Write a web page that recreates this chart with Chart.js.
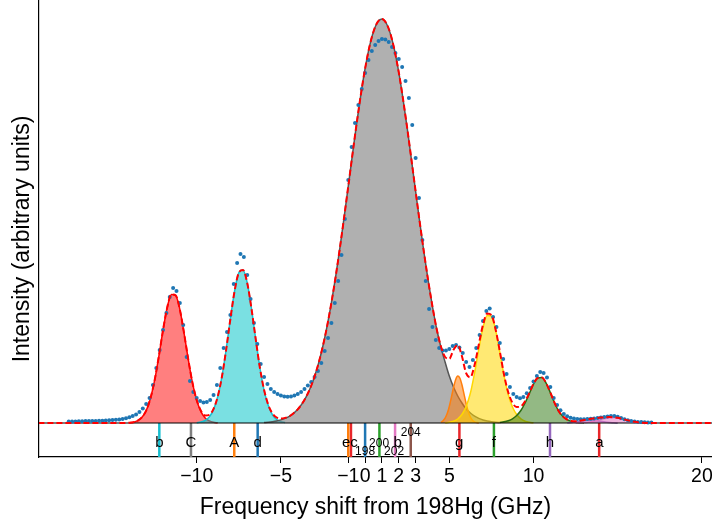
<!DOCTYPE html>
<html><head><meta charset="utf-8">
<script src="https://cdn.jsdelivr.net/npm/chart.js@4.4.1/dist/chart.umd.min.js"></script>
<style>html,body{margin:0;padding:0;background:#fff;}#wrap{width:712px;height:527px;position:relative;}</style>
</head><body><div id="wrap"><canvas id="c" width="712" height="527"></canvas></div>
<script>
// ---------------- data (intensity in arbitrary units) ----------------
const xTickValues = [-10, -5, -1, 0, 1, 2, 3, 5, 10, 20];

const dataX = [-17.6,-17.4,-17.2,-17.0,-16.8,-16.6,-16.4,-16.2,-16.0,-15.8,-15.6,-15.4,-15.2,-15.0,-14.8,-14.6,-14.4,-14.2,-14.0,-13.8,-13.6,-13.4,-13.2,-13.0,-12.8,-12.6,-12.4,-12.2,-12.0,-11.8,-11.6,-11.4,-11.2,-11.0,-10.8,-10.6,-10.4,-10.2,-10.0,-9.8,-9.6,-9.4,-9.2,-9.0,-8.8,-8.6,-8.4,-8.2,-8.0,-7.8,-7.6,-7.4,-7.2,-7.0,-6.8,-6.6,-6.4,-6.2,-6.0,-5.8,-5.6,-5.4,-5.2,-5.0,-4.8,-4.6,-4.4,-4.2,-4.0,-3.8,-3.6,-3.4,-3.2,-3.0,-2.8,-2.6,-2.4,-2.2,-2.0,-1.8,-1.6,-1.4,-1.2,-1.0,-0.8,-0.6,-0.4,-0.2,
0.0,0.2,0.4,0.6,0.8,1.0,1.2,1.4,1.6,1.8,2.0,2.2,2.4,2.6,2.8,3.0,3.2,3.4,3.6,3.8,4.0,4.2,4.4,4.6,4.8,5.0,5.2,5.4,5.6,5.8,6.0,6.2,6.4,6.6,6.8,7.0,7.2,7.4,7.6,7.8,8.0,8.2,8.4,8.6,8.8,9.0,9.2,9.4,9.6,9.8,10.0,10.2,10.4,10.6,10.8,11.0,11.2,11.4,11.6,11.8,12.0,12.2,12.4,12.6,12.8,13.0,13.2,13.4,13.6,13.8,14.0,14.2,14.4,14.6,14.8,15.0,15.2,15.4,15.6,15.8,16.0,16.2,16.4,16.6,16.8,17.0];
const dataY = [1.5,1.6,1.6,1.7,1.8,1.9,2.0,2.1,2.1,2.2,2.3,2.5,2.7,2.9,3.2,3.6,4.1,4.8,5.7,7.0,8.6,11.0,14.5,19.0,25.0,38.0,55.0,73.0,93.0,110.0,126.0,135.0,132.0,120.0,98.0,66.0,42.0,31.0,25.0,22.0,20.5,21.0,23.0,28.0,38.0,55.0,75.0,91.0,108.0,139.0,160.0,169.0,166.0,148.0,124.0,100.0,79.0,59.0,46.0,39.0,34.0,31.0,29.0,27.5,26.5,26.3,26.5,27.5,29.0,31.0,34.0,37.5,41.0,46.0,52.0,60.0,72.0,85.0,100.0,120.0,142.0,168.0,204.0,243.0,276.0,300.0,318.0,334.0,
350,363,372,378,382,384,383.5,381,376,370,364,356,342,325,298,265,225,183,142,114,96,83,75,72.5,72.5,74,77,78,75.5,70,61,56,63,75,88,102,112,114.5,106,96,80,64,49,36,29,26,24.7,26,29.7,35,41.5,47,51,50,45.5,36,25,18,12.7,9,6.7,5.3,4.4,3.9,3.7,3.8,4.0,4.3,4.6,4.9,5.4,6.0,6.5,6.9,7.0,6.2,5.0,3.7,2.7,2.0,1.5,1.1,0.9,0.7,0.6,0.5];

const fitX = [-19.4,-14.25,-14.0,-13.75,-13.5,-13.25,-13.0,-12.75,-12.5,-12.25,-12.0,-11.75,-11.5,-11.25,-11.0,-10.75,-10.5,-10.25,-10.0,-9.75,-9.5,-9.25,-9.0,-8.75,-8.5,-8.25,-8.0,-7.75,-7.5,-7.25,-7.0,-6.75,-6.5,-6.25,-6.0,-5.75,-5.5,-5.25,-5.0,-4.75,-4.5,-4.25,-4.0,-3.75,-3.5,-3.25,-3.0,-2.75,-2.5,-2.25,-2.0,-1.75,-1.5,-1.25,-1.0,-0.75,-0.5,-0.25,0.0,0.25,0.5,0.75,1.0,1.25,1.5,1.75,2.0,2.25,2.5,2.75,3.0,3.25,3.5,3.75,4.0,4.25,4.5,4.75,5.0,5.25,5.5,5.75,6.0,6.25,6.5,6.75,7.0,7.25,7.5,7.75,8.0,8.25,8.5,8.75,9.0,9.25,9.5,9.75,10.0,10.25,10.5,10.75,11.0,11.25,11.5,11.75,12.0,12.25,12.5,12.75,13.0,13.25,13.5,13.75,14.0,14.25,14.5,14.75,15.0,15.25,15.5,15.75,16.0,16.25,16.5,16.75,17.0,20.7];
const fitY = [0,0.1,0.3,0.8,2.3,5.7,12.4,24.4,42.6,66.5,92.8,115.6,128.6,127.7,113.3,89.7,63.4,40.1,22.9,12.3,7.6,8.2,14.1,26.6,46.5,73.5,104.0,132.0,150.2,153.1,140.0,114.7,84.3,55.5,33.2,18.2,9.5,5.5,4.4,5.1,6.7,9.7,13.7,19.1,26.2,35.2,46.6,60.6,77.5,97.4,120.4,146.2,174.7,205.1,236.7,268.7,299.7,328.7,354.4,375.7,391.5,401.1,404.0,400.0,389.4,372.6,350.6,324.2,294.8,263.5,231.6,200.1,170.0,141.9,116.5,94.0,76.8,66.0,64.2,73.3,78.0,66.8,49.8,45.7,57.9,78.3,98.1,109.5,108.0,93.5,71.7,48.4,30.8,20.2,16.0,16.7,21.8,29.9,39.1,45.0,45.4,39.8,30.4,20.2,11.7,6.5,3.5,2.1,1.8,2.2,2.9,3.7,4.5,5.0,5.4,5.7,5.9,5.7,5.2,4.2,3.1,2.1,1.2,0.6,0.3,0.1,0.05,0];

// fitted components
const redPeakX = [-14.0,-13.75,-13.5,-13.25,-13.0,-12.75,-12.5,-12.25,-12.0,-11.75,-11.5,-11.25,-11.0,-10.75,-10.5,-10.25,-10.0,-9.75,-9.5,-9.25,-9.0,-8.75];
const redPeakY = [0.3,0.8,2.3,5.7,12.4,24.4,42.6,66.5,92.8,115.6,128.6,127.7,113.3,89.7,63.4,40.1,22.6,11.4,5.1,2.1,0.7,0.2];
const cyanPeakX = [-10.0,-9.75,-9.5,-9.25,-9.0,-8.75,-8.5,-8.25,-8.0,-7.75,-7.5,-7.25,-7.0,-6.75,-6.5,-6.25,-6.0,-5.75,-5.5,-5.25,-5.0,-4.75];
const cyanPeakY = [0.3,0.9,2.5,6.1,13.4,26.4,46.5,73.5,104.0,132.0,150.2,153.1,140.0,114.7,84.3,55.5,32.7,17.4,8.2,3.5,1.3,0.5];
const grayPeakX = [-6.0,-5.75,-5.5,-5.25,-5.0,-4.75,-4.5,-4.25,-4.0,-3.75,-3.5,-3.25,-3.0,-2.75,-2.5,-2.25,-2.0,-1.75,-1.5,-1.25,-1.0,-0.75,-0.5,-0.25,0.0,0.25,0.5,0.75,1.0,1.25,1.5,1.75,2.0,2.25,2.5,2.75,3.0,3.25,3.5,3.75,4.0,4.25,4.5,4.75,5.0,5.25,5.5,5.75,6.0,6.25,6.5,6.75,7.0,7.25,7.5,7.75,8.0];
const grayPeakY = [0.5,0.8,1.3,2.0,3.1,4.6,6.7,9.7,13.7,19.1,26.2,35.2,46.6,60.6,77.5,97.4,120.4,146.2,174.7,205.1,236.7,268.7,299.7,328.7,354.4,375.7,391.5,401.1,404.0,400.0,389.4,372.6,350.6,324.2,294.8,263.5,231.6,200.1,170.0,141.9,116.5,94.0,76.0,61.0,47.0,36.0,27.0,20.0,14.0,10.0,6.8,4.6,3.0,1.9,1.2,0.7,0.4];
const orangePeakX = [4.5,4.625,4.75,4.875,5.0,5.125,5.25,5.375,5.5,5.625,5.75,5.875,6.0,6.125,6.25,6.375,6.5,6.625,6.75];
const orangePeakY = [0.8,2.1,4.8,9.4,16.5,25.7,35.5,43.3,47.0,45.0,38.3,28.9,19.3,11.4,6.0,2.8,1.2,0.4,0.1];
const yellowPeakX = [4.75,5.0,5.25,5.5,5.75,6.0,6.25,6.5,6.75,7.0,7.25,7.5,7.75,8.0,8.25,8.5,8.75,9.0,9.25,9.5,9.75,10.0];
const yellowPeakY = [0.2,0.7,1.8,4.0,8.5,16.5,29.7,49.9,73.6,95.1,107.6,106.8,92.8,70.7,47.2,28.5,16.0,8.5,4.2,1.8,0.7,0.2];
const greenPeakX = [8.0,8.25,8.5,8.75,9.0,9.25,9.5,9.75,10.0,10.25,10.5,10.75,11.0,11.25,11.5,11.75,12.0,12.25,12.5,12.75,13.0];
const greenPeakY = [0.6,1.2,2.3,4.2,7.5,12.5,20.0,29.2,38.9,45.0,45.4,39.8,30.4,20.2,11.7,6.5,3.3,1.6,0.7,0.3,0.1];
const purplePeakX = [12.0,12.25,12.5,12.75,13.0,13.25,13.5,13.75,14.0,14.25,14.5,14.75,15.0];
const purplePeakY = [0.2,0.5,1.0,1.7,2.4,2.9,3.0,2.5,1.8,1.1,0.6,0.2,0.1];
const pinkPeakX = [12.5,12.75,13.0,13.25,13.5,13.75,14.0,14.25,14.5,14.75,15.0,15.25,15.5,15.75,16.0,16.25,16.5,16.75,17.0];
const pinkPeakY = [0.1,0.2,0.4,0.8,1.5,2.5,3.6,4.6,5.3,5.5,5.1,4.2,3.1,2.1,1.2,0.6,0.3,0.1,0.05];

// reference transition markers (GHz)
const markerNames = ['b','C','A','d','e','c','198','200','b/202','204','g','f','h','a'];
const markerFreqs = [-12.22,-10.34,-7.77,-6.38,-1.0,-0.84,0.0,0.85,1.78,2.71,5.6,7.65,10.98,13.9];
const labelTexts = ['b','C','A','d','e','c','198','200','b','202','204','g','f','h','a'];
const labelFreqs = [-12.22,-10.34,-7.77,-6.38,-1.12,-0.66,0.0,0.83,1.94,1.72,2.71,5.59,7.65,10.98,13.91];

// ---------------- styling ----------------
const FONT = "'Liberation Sans', Arial, sans-serif";
Chart.defaults.font.family = FONT;
const markerColors = ['#17becf','#7f7f7f','#ff7f0e','#1f77b4','#ff7f0e','#e8262a','#1f77b4','#2ca02c','#e377c2','#8c564b','#e8262a','#2ca02c','#9467bd','#e8262a'];
const labelLevels = [0,0,0,0,0,0,1,0,0,1,2,0,0,0,0]; // 0 normal, 1 low, 2 high
const levelOffsetPx = [24, 32, 13]; // baseline offset below the separator line
const STRIP = -34, TOP = 423;

function pts(xs, ys){ return xs.map((x,i)=>({x:x, y:ys[i]})); }
function peak(label, xs, ys, fillCol, lineCol, ord){
  return {type:'line', label, data:pts(xs,ys), fill:'origin', backgroundColor:fillCol, borderColor:lineCol,
          borderWidth:1.5, pointRadius:0, cubicInterpolationMode:'monotone', order:ord};
}

const datasets = [
  {type:'line', label:'fit', data:pts(fitX,fitY), borderColor:'#ff0000', borderWidth:2, borderDash:[6,3],
   pointRadius:0, fill:false, cubicInterpolationMode:'monotone', order:0},
  {type:'scatter', label:'data', data:pts(dataX,dataY), showLine:false, pointRadius:2.0, pointStyle:'circle',
   backgroundColor:'#1f77b4', borderWidth:0, order:1},
  {type:'line', label:'zero', data:[{x:-19.4,y:0},{x:20.7,y:0}], borderColor:'#000', borderWidth:1.2, pointRadius:0, fill:false, order:2},
  peak('pink', pinkPeakX, pinkPeakY, 'rgba(227,119,194,0.55)', '#e377c2', 10),
  peak('purple', purplePeakX, purplePeakY, 'rgba(148,103,189,0.55)', '#9467bd', 11),
  peak('green', greenPeakX, greenPeakY, 'rgba(40,115,10,0.5)', '#2a6b10', 12),
  peak('yellow', yellowPeakX, yellowPeakY, 'rgba(255,215,0,0.55)', '#ffd700', 13),
  peak('orange', orangePeakX, orangePeakY, 'rgba(255,127,14,0.55)', '#ff7f0e', 14),
  peak('gray', grayPeakX, grayPeakY, 'rgba(128,128,128,0.62)', '#555555', 15),
  peak('cyan', cyanPeakX, cyanPeakY, 'rgba(0,196,200,0.52)', '#17becf', 16),
  peak('red', redPeakX, redPeakY, 'rgba(255,0,0,0.5)', '#ff0000', 17),
];
markerFreqs.forEach((f,i)=>{
  datasets.push({type:'line', label:markerNames[i], data:[{x:f,y:STRIP},{x:f,y:0}], borderColor:markerColors[i],
    borderWidth:2.5, pointRadius:0, fill:false, order:3});
});

const textPlugin = {
  id:'texts',
  afterDraw(chart){
    const ctx = chart.ctx, xs = chart.scales.x, ys = chart.scales.y;
    const y0 = ys.getPixelForValue(0);
    ctx.save();
    ctx.fillStyle = '#000';
    ctx.textAlign = 'center';
    ctx.textBaseline = 'alphabetic';
    labelTexts.forEach((t,i)=>{
      const isNum = /\d/.test(t);
      ctx.font = (isNum ? '12px ' : '15px ') + FONT;
      ctx.fillText(t, xs.getPixelForValue(labelFreqs[i]), y0 + levelOffsetPx[labelLevels[i]]);
    });
    // y axis title
    ctx.translate(22.5, 239);
    ctx.rotate(-Math.PI/2);
    ctx.textBaseline = 'middle';
    ctx.font = '23px ' + FONT;
    ctx.fillText('Intensity (arbitrary units)', 0, 0);
    ctx.restore();
  }
};

new Chart(document.getElementById('c'), {
  data:{datasets},
  options:{
    responsive:false, animation:false, devicePixelRatio:1,
    layout:{padding:0, autoPadding:false},
    plugins:{legend:{display:false}, tooltip:{enabled:false}, title:{display:false}},
    scales:{
      x:{type:'linear', position:'bottom', min:-19.365, max:20.6,
        afterBuildTicks:(s)=>{ s.ticks = xTickValues.map(v=>({value:v})); },
        afterFit:(s)=>{ s.height = 70; s.paddingLeft = 0; s.paddingRight = 0; },
        ticks:{autoSkip:false, maxRotation:0, color:'#000', padding:2, font:{size:19.5, family:FONT},
          callback:(v)=> v < 0 ? '\u2212' + Math.abs(v) : String(v)},
        grid:{display:true, drawOnChartArea:false, drawTicks:true, tickLength:6, tickColor:'#000', tickWidth:1},
        border:{display:true, color:'#000', width:1.2},
        title:{display:true, text:'Frequency shift from 198Hg (GHz)', color:'#000', font:{size:23, family:FONT}, padding:{top:0, bottom:6}}
      },
      y:{type:'linear', position:'left', min:STRIP, max:TOP,
        afterFit:(s)=>{ s.width = 39; s.paddingTop = 0; s.paddingBottom = 0; },
        ticks:{display:false},
        grid:{display:false, drawTicks:false},
        border:{display:true, color:'#000', width:1.2},
        title:{display:false}
      }
    }
  },
  plugins:[textPlugin]
});
</script></body></html>
